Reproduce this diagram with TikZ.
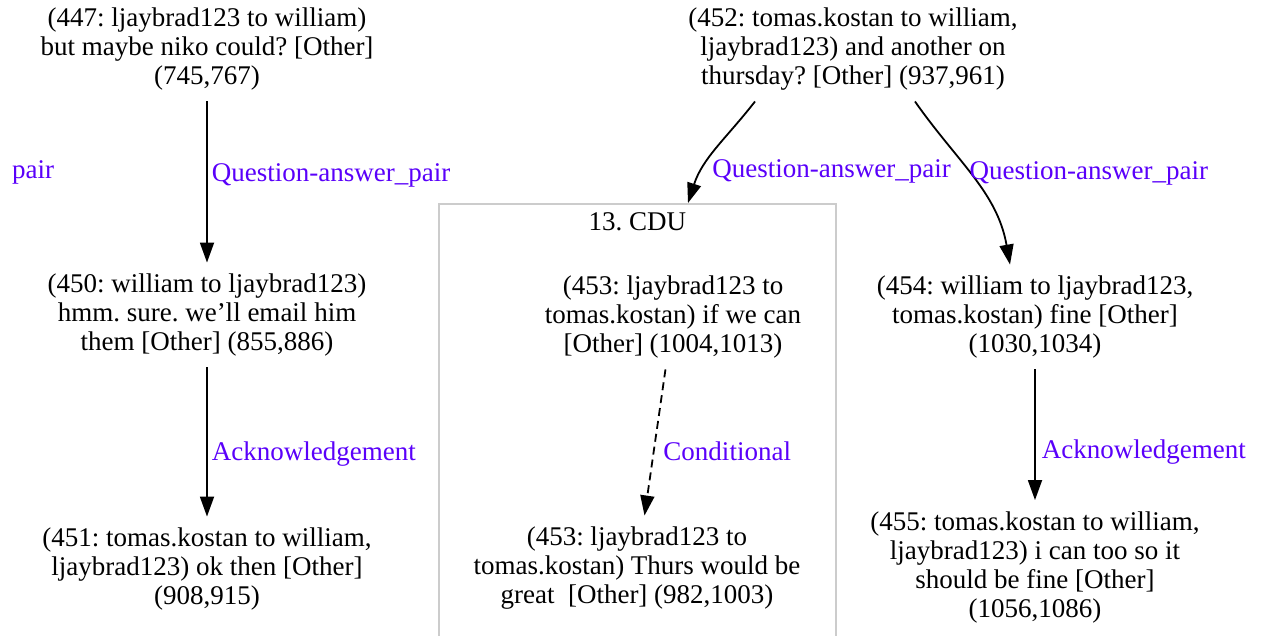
\documentclass[tikz,border=0pt]{standalone}
\usepackage{fontspec}
\setmainfont{Liberation Serif}
\usetikzlibrary{arrows.meta,calc}
\definecolor{lblc}{RGB}{90,0,250}
\definecolor{cdugray}{RGB}{204,204,204}
\frenchspacing
\begin{document}
\begin{tikzpicture}[x=1pt,y=1pt,
  txt/.style={align=center, font=\fontsize{27}{29}\selectfont, inner xsep=0pt, inner ysep=11pt},
  lbl/.style={text=lblc, font=\fontsize{27}{29}\selectfont, inner sep=2pt},
  rel/.style={line width=1.8pt, -{Triangle[length=20pt,width=14pt]}},
  cdubox/.style={draw=cdugray, line width=1.5pt, minimum width=397pt, minimum height=460pt, anchor=north west, inner sep=0pt},
]
\useasboundingbox (0,0) rectangle (1264,-635);
\fill[white] (0,0) rectangle (1264,-635);

\node[cdubox] (cdu) at (438,-203) {};
\node[txt, anchor=north, inner ysep=0pt] (cdutitle) at ($(cdu.north)+(0,-9)$) {13. CDU};

\node[txt] (n447) at (207,-49) {(447: ljaybrad123 to william)\\but maybe niko could? [Other]\\(745,767)};
\node[txt] (n452) at (853,-49) {(452: tomas.kostan to william,\\ljaybrad123) and another on\\thursday? [Other] (937,961)};
\node[txt] (n450) at (207,-315) {(450: william to ljaybrad123)\\hmm. sure. we\char"0027 ll email him\\them [Other] (855,886)};
\node[txt] (n451) at (207,-569) {(451: tomas.kostan to william,\\ljaybrad123) ok then [Other]\\(908,915)};
\node[txt] (n453a) at (673,-317) {(453: ljaybrad123 to\\tomas.kostan) if we can\\{[Other]} (1004,1013)};
\node[txt] (n453b) at (637,-568) {(453: ljaybrad123 to\\tomas.kostan) Thurs would be\\great\ \ [Other] (982,1003)};
\node[txt] (n454) at (1035,-317) {(454: william to ljaybrad123,\\tomas.kostan) fine [Other]\\(1030,1034)};
\node[txt] (n455) at (1035,-567) {(455: tomas.kostan to william,\\ljaybrad123) i can too so it\\should be fine [Other]\\(1056,1086)};

\node[lbl, anchor=west] (pairlbl) at (10,-172) {pair};

\draw[rel] (n447) -- node[lbl, anchor=west, pos=0.41, xshift=2pt, yshift=-8pt] {Question-answer\_pair} (n450);
\draw[rel] (n450) -- node[lbl, anchor=west, pos=0.53, xshift=2pt, yshift=-8pt] {Acknowledgement} (n451);
\draw[rel, dashed, dash pattern=on 8pt off 5pt] (n453a) -- node[lbl, anchor=west, pos=0.52, xshift=6pt, yshift=-6pt] {Conditional} (n453b);
\draw[rel] (n454) -- node[lbl, anchor=west, pos=0.53, xshift=4pt, yshift=-13pt] {Acknowledgement} (n455);

\draw[rel] ($(n452.south)+(-98,0)$) to[out=-128,in=72]
  node[lbl, anchor=west, pos=0.6, xshift=0pt, yshift=-13pt] {Question-answer\_pair} ($(cdu.north west)+(250,0)$);
\draw[rel] ($(n452.south)+(62,0)$) to[out=-55,in=100]
  node[lbl, anchor=west, pos=0.38, xshift=6pt, yshift=-12pt] {Question-answer\_pair} ($(n454.north)+(-25,0)$);
\end{tikzpicture}
\end{document}
